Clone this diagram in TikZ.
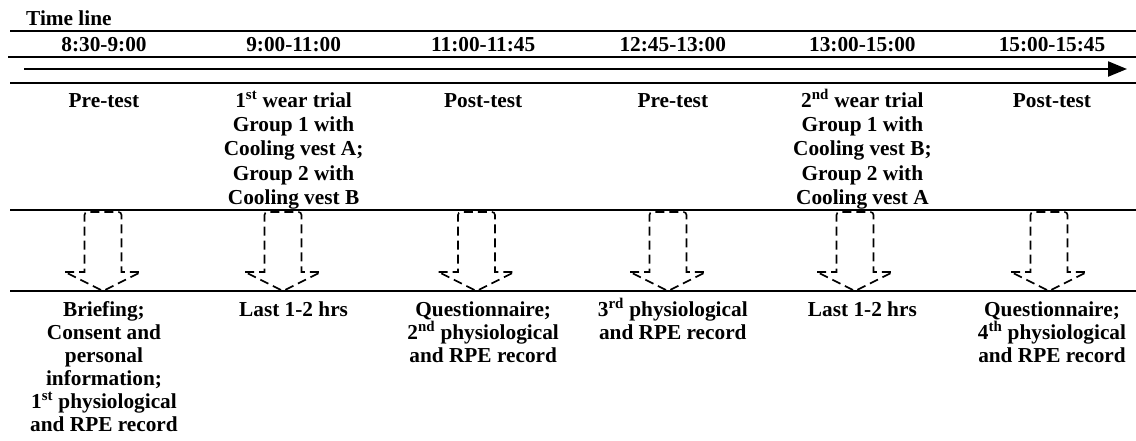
\documentclass[tikz,border=0pt]{standalone}
\usepackage{fontspec}
\setmainfont{Liberation Serif}
\usetikzlibrary{arrows.meta}
\tikzset{
  rule/.style={line width=2.6pt},
  timearrow/.style={line width=2.2pt,-{Triangle[length=19pt,width=15pt]}},
  hdr/.style={font=\bfseries\fontsize{21.3}{24}\selectfont,anchor=base,inner sep=0pt},
  midtxt/.style={font=\bfseries\fontsize{21.3}{24.4}\selectfont,anchor=base,align=center,inner sep=0pt},
  bottxt/.style={font=\bfseries\fontsize{21.3}{23}\selectfont,anchor=base,align=center,inner sep=0pt},
  dasharrow/.style={line width=1.6pt,dash pattern=on 9pt off 5pt},
  blockdown/.pic={
    \draw[dasharrow] (-38,-19) -- (-18.5,-19) [rounded corners=3pt] -- (-18.5,-79) -- (18.5,-79) [sharp corners] -- (18.5,-19) -- (38,-19) -- (0,0) -- cycle;
  }
}
\begin{document}
\begin{tikzpicture}[x=1pt,y=-1pt]
\useasboundingbox (0,0) rectangle (1136,440);
% rules
\coordinate (l1a) at (10,31);  \coordinate (l1b) at (1136,31);
\coordinate (l2a) at (8,57);   \coordinate (l2b) at (1136,57);
\coordinate (ta)  at (24,69);  \coordinate (tb)  at (1127,69);
\coordinate (l3a) at (10,83);  \coordinate (l3b) at (1136,83);
\coordinate (l4a) at (10,210); \coordinate (l4b) at (1136,210);
\coordinate (l5a) at (10,291); \coordinate (l5b) at (1136,291);
\draw[rule] (l1a) -- (l1b);
\draw[rule] (l2a) -- (l2b);
\draw[timearrow] (ta) -- (tb);
\draw[rule] (l3a) -- (l3b);
\draw[rule] (l4a) -- (l4b);
\draw[rule] (l5a) -- (l5b);
% title
\node[hdr,anchor=base west] (title) at (26,25) {Time line};
% headers
\node[hdr] (h1) at (104,51) {8:30-9:00};
\node[hdr] (h2) at (293.6,51) {9:00-11:00};
\node[hdr] (h3) at (483.2,51) {11:00-11:45};
\node[hdr] (h4) at (672.8,51) {12:45-13:00};
\node[hdr] (h5) at (862.4,51) {13:00-15:00};
\node[hdr] (h6) at (1052,51) {15:00-15:45};
% middle row (anchor = baseline of last line)
\node[midtxt] (p1) at (104,107) {Pre-test};
\node[midtxt] (p2) at (293.6,204.6) {1\textsuperscript{st} wear trial\\Group 1 with\\Cooling vest A;\\Group 2 with\\Cooling vest B};
\node[midtxt] (p3) at (483.2,107) {Post-test};
\node[midtxt] (p4) at (672.8,107) {Pre-test};
\node[midtxt] (p5) at (862.4,204.6) {2\textsuperscript{nd} wear trial\\Group 1 with\\Cooling vest B;\\Group 2 with\\Cooling vest A};
\node[midtxt] (p6) at (1052,107) {Post-test};
% block arrows
\pic (a1) at (103,291) {blockdown};
\pic (a2) at (283,291) {blockdown};
\pic (a3) at (476.5,291) {blockdown};
\pic (a4) at (668,291) {blockdown};
\pic (a5) at (855,291) {blockdown};
\pic (a6) at (1049,291) {blockdown};
% bottom row (anchor = baseline of last line)
\node[bottxt] (b1) at (104,431) {Briefing;\\Consent and\\personal\\information;\\1\textsuperscript{st} physiological\\and RPE record};
\node[bottxt] (b2) at (293.6,316) {Last 1-2 hrs};
\node[bottxt] (b3) at (483.2,362) {Questionnaire;\\2\textsuperscript{nd} physiological\\and RPE record};
\node[bottxt] (b4) at (672.8,339) {3\textsuperscript{rd} physiological\\and RPE record};
\node[bottxt] (b5) at (862.4,316) {Last 1-2 hrs};
\node[bottxt] (b6) at (1052,362) {Questionnaire;\\4\textsuperscript{th} physiological\\and RPE record};
\end{tikzpicture}
\end{document}
